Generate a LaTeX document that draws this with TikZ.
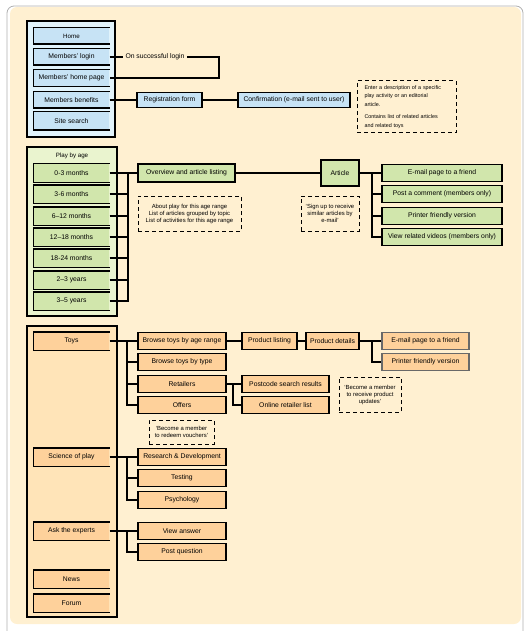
\documentclass[tikz,border=0pt]{standalone}
\usepackage{fontspec}
\setmainfont{Liberation Sans}
\definecolor{cream}{RGB}{255, 240, 209}
\definecolor{frame gray}{RGB}{175, 175, 175}
\definecolor{light blue}{RGB}{225, 243, 251}
\definecolor{mid blue}{RGB}{199, 227, 245}
\definecolor{light green}{RGB}{234, 244, 207}
\definecolor{mid green}{RGB}{209, 230, 172}
\definecolor{light orange}{RGB}{255, 228, 184}
\definecolor{mid orange}{RGB}{254, 209, 155}
\definecolor{box gray}{RGB}{105, 105, 105}

\begin{document}
\begin{tikzpicture}[
        x=1pt, y=-1pt,
        line width=1.1pt,
        every node/.style={font=\fontsize{6.8}{8}\selectfont, inner sep=1pt},
        sidebox/.style={minimum width=75, minimum height=17},
        box/.style={draw, minimum height=17},
        greybox/.style={box, draw=box gray, line width=1.4pt},
        note/.style={draw, dash pattern=on 4pt off 3pt, line width=1pt, align=center,
            font=\fontsize{5.9}{7}\selectfont},
        title/.style={font=\fontsize{6.2}{7}\selectfont}
    ]

    \useasboundingbox (0,0) rectangle (529,631);
    \fill[cream, rounded corners=7] (10,7) rectangle (521,624);
    \draw[frame gray, line width=0.8pt, rounded corners=7] (7,631) -- (7,6) -- (523,6) -- (523,631);

    % members
    \draw[fill=light blue] (27,21) rectangle (115,137);
    \node[sidebox, fill=mid blue, minimum height=15, title] (home) at (71.5,36) {Home};
    \node[sidebox, fill=mid blue, minimum height=15] (login) at (71.5,57) {Members' login};
    \node[sidebox, fill=mid blue, minimum height=16] (memberhome) at (71.5,78) {Members' home page};
    \node[sidebox, fill=mid blue, minimum height=15] (benefits) at (71.5,100) {Members benefits};
    \node[sidebox, fill=mid blue, minimum height=17] (search) at (71.5,121) {Site search};

    \node[inner sep=2pt] (loginlabel) at (155,57) {On successful login};
    \draw (login.east) -- (loginlabel.west);
    \draw (loginlabel.east) -- ++(32,0) |- (memberhome.east);

    \node[box, fill=mid blue, minimum width=65, minimum height=15] (regform) at (169.5,100) {Registration form};
    \node[box, fill=mid blue, minimum width=112, minimum height=15] (confirm) at (294,100) {Confirmation (e-mail sent to user)};
    \draw (benefits.east) -- (regform.west);
    \draw (regform.east) -- (confirm.west);

    \node[note, align=left, text width=84, minimum width=99, minimum height=52,
        font=\fontsize{5.4}{8.5}\selectfont] (descnote) at (406.5,107)
        {Enter a description of a specific\\play activity or an editorial\\article.\\[4pt]Contains list of related articles\\and related toys};

    % play by age
    \draw[fill=light green] (27,147) rectangle (117,316);
    \node[title] (agetitle) at (72,156) {Play by age};
    \foreach \name/\yy/\txt in {m03/173/0-3 months, m36/194/3-6 months, m612/216/6--12 months,
            m1218/237/12--18 months, m1824/258/18-24 months, y23/280/2--3 years, y35/301/3--5 years}
        \node[sidebox, fill=mid green] (\name) at (71.5,\yy) {\txt};

    \node[box, fill=mid green, minimum width=97, minimum height=18] (overview) at (186.5,173) {Overview and article listing};
    \node[box, fill=mid green, minimum width=38, minimum height=26] (article) at (340,173) {Article};
    \coordinate (agebus) at (128,173);
    \draw (m03.east) -- (overview.west);
    \foreach \name in {m36,m612,m1218,m1824,y23,y35}
        \draw (\name.east) -| (agebus);
    \draw (overview.east) -- (article.west);

    \node[note, minimum width=103, minimum height=35] (agenote) at (189.5,213.5)
        {About play for this age range\\List of articles grouped by topic\\List of activities for this age range};
    \node[note, minimum width=58, minimum height=35] (signupnote) at (330,213.5)
        {`Sign up to receive\\similar articles by\\e-mail'};

    \foreach \name/\yy/\txt in {mailfriend/173/E-mail page to a friend, comment/194/Post a comment (members only),
            printer/216/Printer friendly version, videos/237/View related videos (members only)}
        \node[box, fill=mid green, minimum width=120] (\name) at (442,\yy) {\txt};
    \coordinate (articlebus) at (372,173);
    \draw (article.east) -- (mailfriend.west);
    \foreach \name in {comment,printer,videos}
        \draw (articlebus) |- (\name.west);

    % toys and the rest
    \draw[fill=light orange] (27,326) rectangle (117,617);
    \foreach \name/\yy/\txt in {toys/341/Toys, science/457/Science of play, experts/531/Ask the experts,
            news/579/News, forum/603/Forum}
        \node[sidebox, fill=mid orange] (\name) at (71.5,\yy) {\txt};

    \foreach \name/\yy/\txt in {byage/341/Browse toys by age range, bytype/362/Browse toys by type,
            retailers/384/Retailers, offers/405/Offers,
            research/457/Research \& Development, testing/478/Testing, psychology/500/Psychology,
            viewanswer/531/View answer, postquestion/552/Post question}
        \node[box, fill=mid orange, minimum width=88] (\name) at (182,\yy) {\txt};

    \coordinate (toysbus) at (127,341);
    \coordinate (sciencebus) at (127,457);
    \coordinate (expertsbus) at (127,531);
    \draw (toys.east) -- (byage.west);
    \foreach \name in {bytype,retailers,offers}
        \draw (toysbus) |- (\name.west);
    \draw (science.east) -- (research.west);
    \foreach \name in {testing,psychology}
        \draw (sciencebus) |- (\name.west);
    \draw (experts.east) -- (viewanswer.west);
    \draw (expertsbus) |- (postquestion.west);

    \node[box, fill=mid orange, minimum width=55] (listing) at (269.5,341) {Product listing};
    \node[box, fill=mid orange, minimum width=53] (details) at (332.5,341) {Product details};
    \node[greybox, fill=mid orange, minimum width=87] (mailtoy) at (425.5,341) {E-mail page to a friend};
    \node[greybox, fill=mid orange, minimum width=87] (printtoy) at (425.5,362) {Printer friendly version};
    \coordinate (detailsbus) at (372,341);
    \draw (byage.east) -- (listing.west);
    \draw (listing.east) -- (details.west);
    \draw (details.east) -- (mailtoy.west);
    \draw (detailsbus) |- (printtoy.west);

    \node[box, fill=mid orange, minimum width=87] (postcode) at (285.5,384) {Postcode search results};
    \node[box, fill=mid orange, minimum width=87] (online) at (285.5,405) {Online retailer list};
    \coordinate (retailbus) at (233,384);
    \draw (retailers.east) -- (postcode.west);
    \draw (retailbus) |- (online.west);

    \node[note, minimum width=65, minimum height=24] (vouchernote) at (181.5,432)
        {`Become a member\\to redeem vouchers'};
    \node[note, minimum width=62, minimum height=35] (updatenote) at (370,394.5)
        {`Become a member\\to receive product\\updates'};

    % side boxes are open on the right
    \foreach \name in {home,login,memberhome,benefits,search,m03,m36,m612,m1218,m1824,y23,y35,
            toys,science,experts,news,forum}
        \draw (\name.north east) -- (\name.north west) -- (\name.south west) -- (\name.south east);
\end{tikzpicture}
\end{document}
